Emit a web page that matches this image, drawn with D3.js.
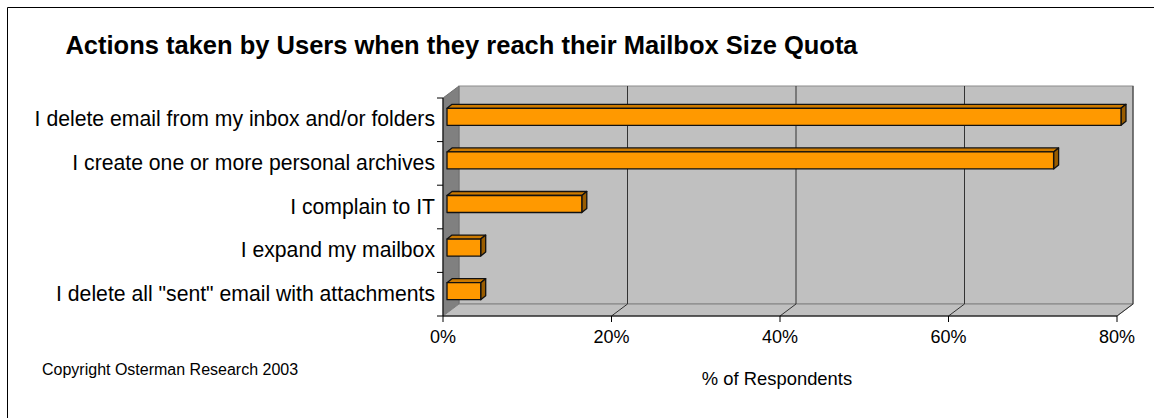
<!DOCTYPE html>
<html>
<head>
<meta charset="utf-8">
<script src="https://cdn.jsdelivr.net/npm/d3@7"></script>
<style>
  html, body { margin: 0; padding: 0; background: #fff; }
  svg { display: block; font-family: "Liberation Sans", Arial, sans-serif; }
</style>
</head>
<body>
<svg id="chart" width="1154" height="418"></svg>
<script>
const categories = [
  "I delete email from my inbox and/or folders",
  "I create one or more personal archives",
  "I complain to IT",
  "I expand my mailbox",
  "I delete all \"sent\" email with attachments"
];
const values = [80, 72, 16, 4, 4];
const tickValues = [0, 20, 40, 60, 80];
const tickLabels = ["0%", "20%", "40%", "60%", "80%"];
const title = "Actions taken by Users when they reach their Mailbox Size Quota";
const axisTitle = "% of Respondents";
const copyright = "Copyright Osterman Research 2003";

const svg = d3.select("#chart");

// outer frame (top and left edges visible)
svg.append("path").attr("d", "M7.5,418 L7.5,7.5 L1154,7.5")
  .attr("fill", "none").attr("stroke", "#000").attr("stroke-width", 1);

// geometry
const x0 = 443, x1 = 1117, yTop = 98, yBot = 316;
const DX = 16, DY = -12; // depth offset
const x = d3.scaleLinear().domain([0, 80]).range([x0, x1]);
const y = d3.scaleBand().domain(categories).range([yTop, yBot])
  .paddingInner(0.61).paddingOuter(0.305);

// back wall
svg.append("rect").attr("x", x0 + DX).attr("y", yTop + DY)
  .attr("width", x1 - x0).attr("height", yBot - yTop)
  .attr("fill", "#c0c0c0").attr("stroke", "#8c8c8c").attr("stroke-width", 1);

// left wall
svg.append("polygon")
  .attr("points", [[x0, yTop], [x0 + DX, yTop + DY], [x0 + DX, yBot + DY], [x0, yBot]].map(p => p.join(",")).join(" "))
  .attr("fill", "#808080").attr("stroke", "#6e6e6e").attr("stroke-width", 1);

// floor
svg.append("polygon")
  .attr("points", [[x0, yBot], [x0 + DX, yBot + DY], [x1 + DX, yBot + DY], [x1, yBot]].map(p => p.join(",")).join(" "))
  .attr("fill", "#c0c0c0").attr("stroke", "#808080").attr("stroke-width", 1);

// gridlines
const grid = svg.append("g");
tickValues.slice(1).forEach(v => {
  const gx = x(v);
  grid.append("path")
    .attr("d", `M${gx},${yBot} L${gx + DX},${yBot + DY} L${gx + DX},${yTop + DY}`)
    .attr("fill", "none").attr("stroke", "#333").attr("stroke-width", 1);
});

// axes lines
svg.append("line").attr("x1", x0).attr("x2", x0).attr("y1", yTop).attr("y2", yBot)
  .attr("stroke", "#000").attr("stroke-width", 1);
svg.append("line").attr("x1", x0).attr("x2", x1).attr("y1", yBot).attr("y2", yBot)
  .attr("stroke", "#000").attr("stroke-width", 1);

// x ticks and labels
const xt = svg.append("g");
tickValues.forEach((v, i) => {
  const tx = x(v);
  xt.append("line").attr("x1", tx).attr("x2", tx).attr("y1", yBot).attr("y2", yBot + 6)
    .attr("stroke", "#000");
  xt.append("text").attr("x", tx).attr("y", 343).attr("text-anchor", "middle")
    .attr("font-size", 18).attr("fill", "#000").text(tickLabels[i]);
});

// y ticks (category boundaries) and labels
const step = y.step();
const yt = svg.append("g");
for (let i = 0; i <= categories.length; i++) {
  const ty = yTop + i * step;
  yt.append("line").attr("x1", x0 - 6).attr("x2", x0).attr("y1", ty).attr("y2", ty)
    .attr("stroke", "#000");
}
categories.forEach(c => {
  yt.append("text").attr("x", 435).attr("y", y(c) + y.bandwidth() / 2 + 6.5)
    .attr("text-anchor", "end").attr("font-size", 21.2).attr("fill", "#000").text(c);
});

// bars (3D)
const fx = 4, fy = -3;   // front face depth offset
const bx = 5, by = -4;   // bar depth
const bars = svg.append("g");
categories.forEach((c, i) => {
  const v = values[i];
  const left = x(0) + fx, right = x(v) + fx;
  const top = y(c) + fy, bot = y(c) + y.bandwidth() + fy;
  const g = bars.append("g").attr("stroke", "#111").attr("stroke-width", 1.3).attr("stroke-linejoin", "round");
  g.append("polygon")
    .attr("points", [[left, top], [left + bx, top + by], [right + bx, top + by], [right, top]].map(p => p.join(",")).join(" "))
    .attr("fill", "#cc7a00");
  g.append("polygon")
    .attr("points", [[right, top], [right + bx, top + by], [right + bx, bot + by], [right, bot]].map(p => p.join(",")).join(" "))
    .attr("fill", "#995c00");
  g.append("rect").attr("x", left).attr("y", top)
    .attr("width", right - left).attr("height", bot - top)
    .attr("fill", "#ff9900");
});

// title
svg.append("text").attr("x", 461.5).attr("y", 54).attr("text-anchor", "middle")
  .attr("font-size", 25.5).attr("font-weight", "bold").attr("fill", "#000").text(title);

// axis title
svg.append("text").attr("x", 777).attr("y", 385).attr("text-anchor", "middle")
  .attr("font-size", 18.4).attr("fill", "#000").text(axisTitle);

// copyright
svg.append("text").attr("x", 42).attr("y", 375)
  .attr("font-size", 16).attr("fill", "#000").text(copyright);
</script>
</body>
</html>
